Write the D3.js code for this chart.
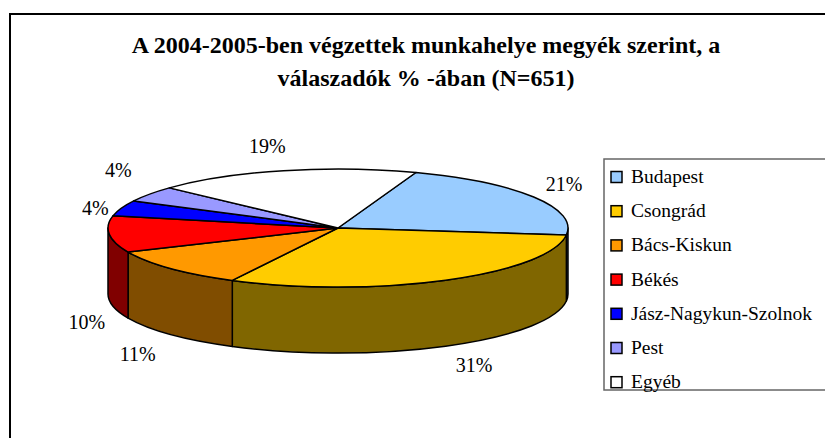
<!DOCTYPE html>
<html>
<head>
<meta charset="utf-8">
<script src="https://cdn.jsdelivr.net/npm/d3@7"></script>
<style>
  body { margin: 0; background: #fff; }
  svg text { font-family: 'Liberation Serif', 'Times New Roman', serif; }
</style>
</head>
<body>
<div id="chart"></div>
<script>
// adatok
var categories = ['Budapest', 'Csongrád', 'Bács-Kiskun', 'Békés', 'Jász-Nagykun-Szolnok', 'Pest', 'Egyéb'];
var values = [21.4, 30.7, 10.7, 10.0, 4.3, 4.3, 18.6];
var colors = ['#99CCFF', '#FFCC00', '#FF9900', '#FF0000', '#0000FF', '#9999FF', '#FFFFFF'];
var titleLines = ['A 2004-2005-ben végzettek munkahelye megyék szerint, a', 'válaszadók % -ában (N=651)'];

var width = 825, height = 438;
var cx = 338, cy = 228, rx = 230, ry = 59, depth = 66;
var startDeg = 19.8;

var svg = d3.select('#chart')
  .append('svg')
  .attr('width', width)
  .attr('height', height);

// keret
svg.append('rect')
  .attr('x', 10).attr('y', 14)
  .attr('width', 834).attr('height', 440)
  .attr('fill', '#fff')
  .attr('stroke', '#000')
  .attr('stroke-width', 2);

// cím
svg.append('g')
  .selectAll('text')
  .data(titleLines)
  .enter()
  .append('text')
  .attr('x', 426)
  .attr('y', function (d, i) { return 53 + i * 33; })
  .attr('text-anchor', 'middle')
  .attr('font-family', 'Liberation Serif')
  .attr('font-size', 24)
  .attr('font-weight', 'bold')
  .text(function (d) { return d; });

var pie = d3.pie()
  .sort(null)
  .value(function (d) { return d; })
  .startAngle(startDeg * Math.PI / 180)
  .endAngle(startDeg * Math.PI / 180 + 2 * Math.PI);

var arcs = pie(values);

function pt(a, dy) {
  return [cx + rx * Math.sin(a), cy - ry * Math.cos(a) + (dy || 0)];
}

function topPath(d) {
  var p0 = pt(d.startAngle), p1 = pt(d.endAngle);
  var large = (d.endAngle - d.startAngle) > Math.PI ? 1 : 0;
  return 'M' + cx + ',' + cy + 'L' + p0 + 'A' + rx + ',' + ry + ' 0 ' + large + ' 1 ' + p1 + 'Z';
}

function wallPath(d) {
  var w0 = Math.max(d.startAngle, Math.PI / 2);
  var w1 = Math.min(d.endAngle, 3 * Math.PI / 2);
  if (w1 <= w0) return null;
  var a = pt(w0), b = pt(w1), c = pt(w1, depth), e = pt(w0, depth);
  return 'M' + a + 'A' + rx + ',' + ry + ' 0 0 1 ' + b + 'L' + c +
    'A' + rx + ',' + ry + ' 0 0 0 ' + e + 'Z';
}

function darker(c) {
  var r = d3.rgb(c);
  return d3.rgb(r.r / 2, r.g / 2, r.b / 2).formatHex();
}

var pieG = svg.append('g').attr('class', 'pie');

// oldalfalak
pieG.selectAll('path.wall')
  .data(arcs.filter(function (d) { return wallPath(d) !== null; }))
  .enter()
  .append('path')
  .attr('class', 'wall')
  .attr('d', wallPath)
  .attr('fill', function (d) { return darker(colors[d.index]); })
  .attr('stroke', '#000')
  .attr('stroke-width', 1.5)
  .attr('stroke-linejoin', 'round');

// tető
pieG.selectAll('path.top')
  .data(arcs)
  .enter()
  .append('path')
  .attr('class', 'top')
  .attr('d', topPath)
  .attr('fill', function (d) { return colors[d.index]; })
  .attr('stroke', '#000')
  .attr('stroke-width', 1.5)
  .attr('stroke-linejoin', 'round');

// címkék helye
var labelPos = arcs.map(function (d) {
  var m = (d.startAngle + d.endAngle) / 2;
  var c = Math.cos(m);
  var y = c >= 0 ? cy - ry * 1.3 * c : cy - ry * 0.8 * c + depth * 1.33;
  return { x: cx + Math.sin(m) * (rx + 22 + 50 * c * c), y: y - c * 8 + 7 };
});

// egymáshoz közeli címkék széttolása
for (var i = 0; i < labelPos.length; i++) {
  for (var j = i + 1; j < labelPos.length; j++) {
    var a = labelPos[i], b = labelPos[j];
    var gap = Math.abs(a.y - b.y);
    if (Math.abs(a.x - b.x) < 50 && gap < 38) {
      var push = (38 - gap) / 2;
      if (a.y < b.y) { a.y -= push; b.y += push; } else { a.y += push; b.y -= push; }
    }
  }
}

var fmt = d3.format('.0f');
pieG.selectAll('text.lbl')
  .data(arcs)
  .enter()
  .append('text')
  .attr('class', 'lbl')
  .attr('font-family', 'Liberation Serif')
  .attr('font-size', 20)
  .attr('text-anchor', 'middle')
  .attr('x', function (d) { return labelPos[d.index].x; })
  .attr('y', function (d) { return labelPos[d.index].y; })
  .text(function (d) { return fmt(d.value) + '%'; });

// jelmagyarázat
var legend = svg.append('g').attr('class', 'legend');
legend.append('rect')
  .attr('x', 604).attr('y', 159)
  .attr('width', 240).attr('height', 231)
  .attr('fill', '#fff')
  .attr('stroke', '#666')
  .attr('stroke-width', 1.5);

var item = legend.selectAll('g.item')
  .data(categories)
  .enter()
  .append('g')
  .attr('class', 'item')
  .attr('transform', function (d, i) { return 'translate(611,' + (177 + i * 34.2) + ')'; });

item.append('rect')
  .attr('x', 0).attr('y', -5.5)
  .attr('width', 11).attr('height', 11)
  .attr('fill', function (d, i) { return colors[i]; })
  .attr('stroke', '#000')
  .attr('stroke-width', 1.5);

item.append('text')
  .attr('x', 20)
  .attr('y', 6)
  .attr('font-family', 'Liberation Serif')
  .attr('font-size', 19.5)
  .text(function (d) { return d; });
</script>
</body>
</html>
